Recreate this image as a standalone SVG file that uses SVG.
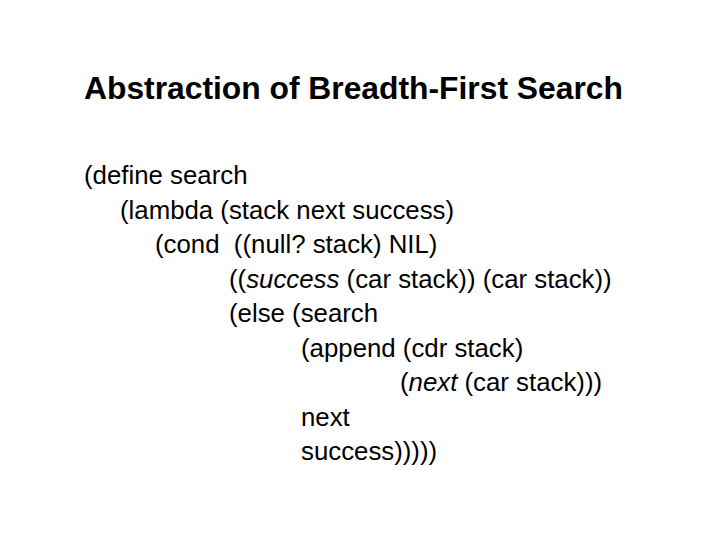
<svg xmlns="http://www.w3.org/2000/svg" width="720" height="540" viewBox="0 0 720 540">
<style>
text{font-family:"Liberation Sans",Arial,sans-serif;fill:#000;white-space:pre}
.t{font-size:31.8px;font-weight:bold}
.b{font-size:25.8px}
</style>
<rect width="720" height="540" fill="#fff"/>
<text class="t" x="84" y="99">Abstraction of Breadth-First Search</text>
<g id="code">
<text class="b" x="84" y="184">(define search</text>
<text class="b" x="120" y="219">(lambda (stack next success)</text>
<text class="b" x="155" y="253">(cond  ((null? stack) NIL)</text>
<text class="b" x="229" y="288">((<tspan font-style="italic">success</tspan> (car stack)) (car stack))</text>
<text class="b" x="229" y="322">(else (search</text>
<text class="b" x="301" y="357">(append (cdr stack)</text>
<text class="b" x="400" y="391">(<tspan font-style="italic">next</tspan> (car stack)))</text>
<text class="b" x="301" y="426">next</text>
<text class="b" x="301" y="460">success)))))</text>
</g>
</svg>
